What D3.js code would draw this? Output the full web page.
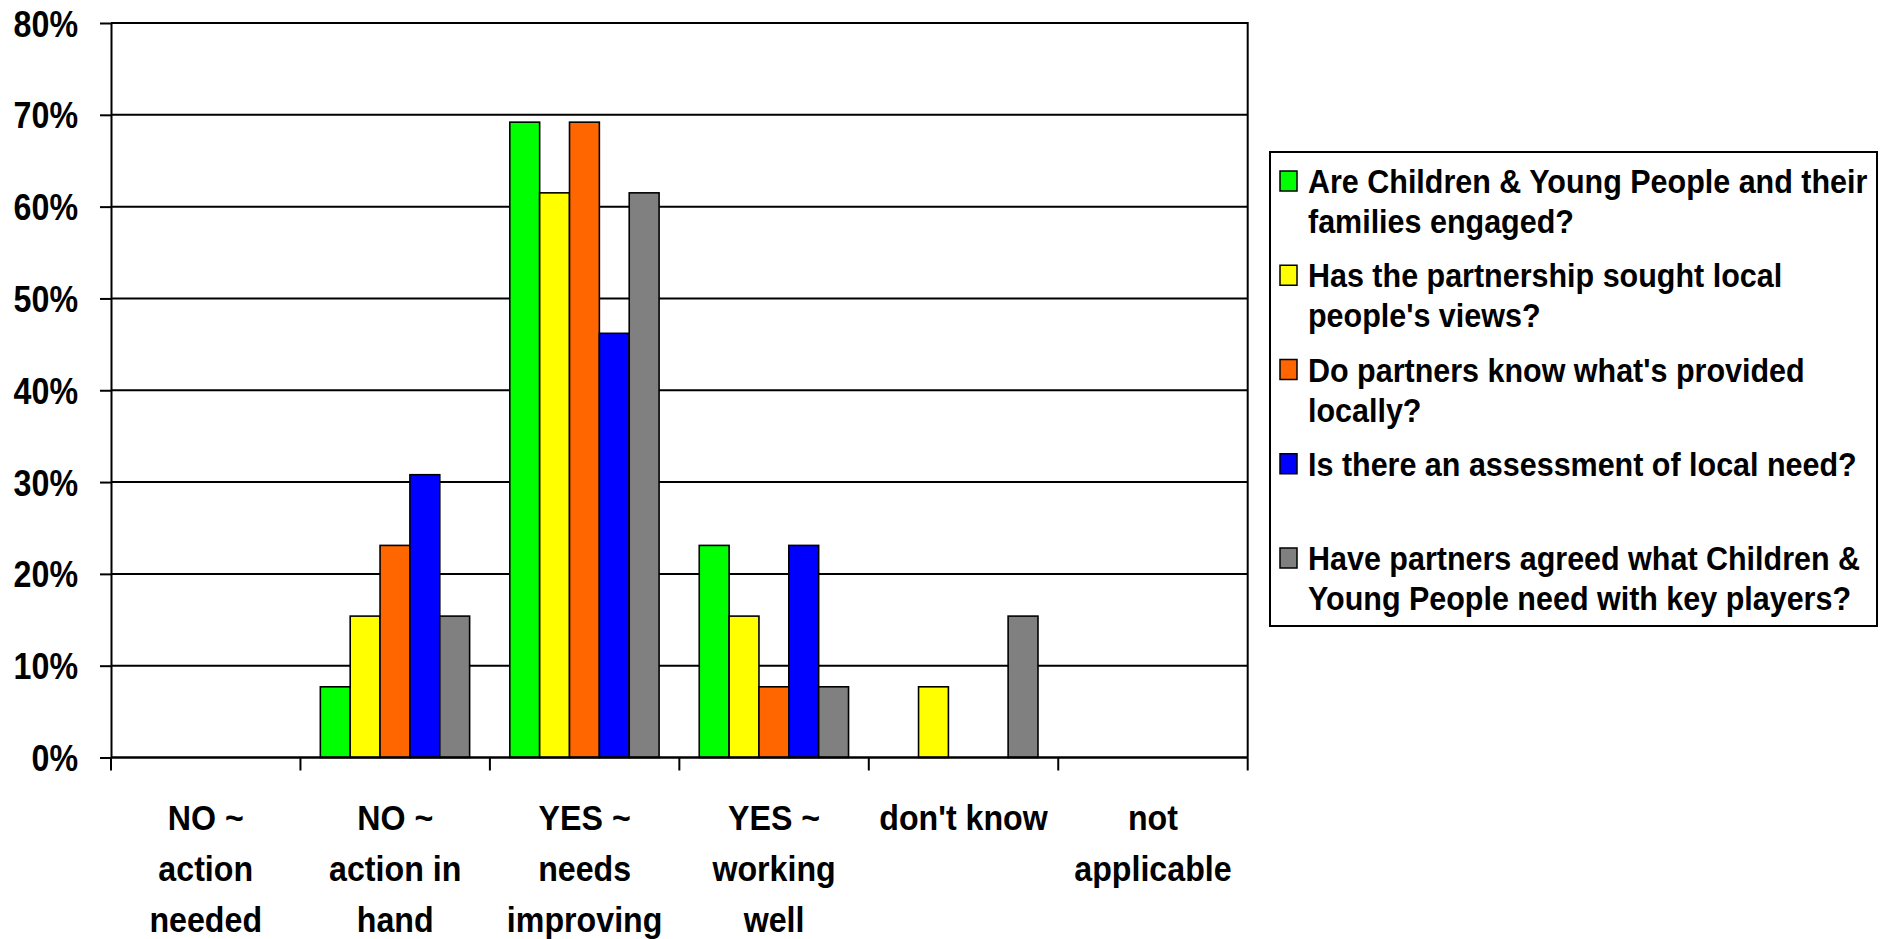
<!DOCTYPE html>
<html>
<head>
<meta charset="utf-8">
<script src="https://cdn.jsdelivr.net/npm/d3@7"></script>
<style>
  html, body { margin: 0; padding: 0; background: #fff; }
  svg { display: block; }
  text { font-family: "Liberation Sans", Arial, sans-serif; font-weight: bold; fill: #000; }
</style>
</head>
<body>
<svg id="chart" width="1881" height="939"></svg>
<script>
// ---- data ----
const categories = ["NO ~ action needed", "NO ~ action in hand", "YES ~ needs improving", "YES ~ working well", "don't know", "not applicable"];
const categoryLines = [["NO ~", "action", "needed"], ["NO ~", "action in", "hand"], ["YES ~", "needs", "improving"], ["YES ~", "working", "well"], ["don't know"], ["not", "applicable"]];
const seriesNames = [
  "Are Children & Young People and their families engaged?",
  "Has the partnership sought local people's views?",
  "Do partners know what's provided locally?",
  "Is there an assessment of local need?",
  "Have partners agreed what Children & Young People need with key players?"
];
const legendLines = [
  ["Are Children & Young People and their", "families engaged?"],
  ["Has the partnership sought local", "people's views?"],
  ["Do partners know what's provided", "locally?"],
  ["Is there an assessment of local need?"],
  ["Have partners agreed what Children &", "Young People need with key players?"]
];
const engagedValues     = [0, 7.7, 69.2, 23.1, 0, 0];
const viewsValues       = [0, 15.4, 61.5, 15.4, 7.7, 0];
const providedValues    = [0, 23.1, 69.2, 7.7, 0, 0];
const assessmentValues  = [0, 30.8, 46.2, 23.1, 0, 0];
const agreedValues      = [0, 15.4, 61.5, 7.7, 15.4, 0];
const seriesColors = ["#00ff00", "#ffff00", "#ff6600", "#0000ff", "#808080"];
const yTicks = [0, 10, 20, 30, 40, 50, 60, 70, 80];

const seriesValues = [engagedValues, viewsValues, providedValues, assessmentValues, agreedValues];

// ---- layout ----
const plot = { left: 111, right: 1247.7, top: 23, bottom: 757.5 };
const svg = d3.select("#chart");

const x0 = d3.scaleBand().domain(categories).range([plot.left, plot.right]).padding(0);
const bw = x0.bandwidth();
const x1 = d3.scaleBand().domain(seriesNames).range([bw * 0.105, bw * 0.893]).padding(0);
const y = d3.scaleLinear().domain([0, 80]).range([plot.bottom, plot.top]);

// gridlines
svg.append("g").selectAll("line").data(yTicks.filter(t => t > 0)).join("line")
  .attr("x1", plot.left).attr("x2", plot.right)
  .attr("y1", d => y(d)).attr("y2", d => y(d))
  .attr("stroke", "#000").attr("stroke-width", 2);

// bars
const flat = [];
seriesNames.forEach((s, si) => {
  categories.forEach((c, ci) => {
    const v = seriesValues[si][ci];
    if (v > 0) flat.push({ s, c, v, color: seriesColors[si] });
  });
});
svg.append("g").selectAll("rect").data(flat).join("rect")
  .attr("x", d => x0(d.c) + x1(d.s))
  .attr("y", d => y(d.v))
  .attr("width", x1.bandwidth())
  .attr("height", d => y(0) - y(d.v))
  .attr("fill", d => d.color)
  .attr("stroke", "#000").attr("stroke-width", 1.6);

// y axis with outer ticks
const yAxis = d3.axisLeft(y).tickValues(yTicks).tickSize(11).tickSizeOuter(0).tickFormat("");
const gy = svg.append("g").attr("transform", `translate(${plot.left},0)`).call(yAxis);
gy.selectAll("line").attr("stroke", "#000").attr("stroke-width", 2);
gy.select(".domain").attr("stroke", "#000").attr("stroke-width", 2);

// x axis: ticks at category boundaries
const boundaries = categories.map(c => x0(c)).concat([plot.right]);
svg.append("g").selectAll("line").data(boundaries).join("line")
  .attr("x1", d => d).attr("x2", d => d)
  .attr("y1", plot.bottom).attr("y2", plot.bottom + 13)
  .attr("stroke", "#000").attr("stroke-width", 2);
svg.append("line")
  .attr("x1", plot.left).attr("x2", plot.right)
  .attr("y1", plot.bottom).attr("y2", plot.bottom)
  .attr("stroke", "#000").attr("stroke-width", 2.4);

// plot border top/right
svg.append("path")
  .attr("d", `M${plot.left},${plot.top}H${plot.right}V${plot.bottom}`)
  .attr("fill", "none").attr("stroke", "#000").attr("stroke-width", 2);

// y labels
svg.append("g").selectAll("text").data(yTicks).join("text")
  .attr("transform", d => `translate(78,${y(d) + 13.5}) scale(0.87,1)`)
  .attr("text-anchor", "end")
  .style("font-size", "37px")
  .text(d => d + "%");

// x labels
const xl = svg.append("g").selectAll("g").data(categories).join("g");
xl.each(function (c, i) {
  const cx = x0(c) + bw / 2;
  d3.select(this).selectAll("text").data(categoryLines[i]).join("text")
    .attr("transform", (t, j) => `translate(${cx},${830 + j * 51}) scale(0.92,1)`)
    .attr("text-anchor", "middle")
    .style("font-size", "35px")
    .text(t => t);
});

// legend
const lg = svg.append("g");
lg.append("rect").attr("x", 1270).attr("y", 152).attr("width", 607).attr("height", 474)
  .attr("fill", "#fff").attr("stroke", "#000").attr("stroke-width", 2);
const itemY = d3.scalePoint().domain(seriesNames).range([193, 570]);
const items = lg.selectAll("g.item").data(seriesNames).join("g").attr("class", "item");
items.append("rect")
  .attr("x", 1280).attr("y", d => itemY(d) - 22)
  .attr("width", 17).attr("height", 20)
  .attr("fill", (d, i) => seriesColors[i])
  .attr("stroke", "#000").attr("stroke-width", 1.5);
items.each(function (d, i) {
  d3.select(this).selectAll("text").data(legendLines[i]).join("text")
    .attr("transform", (t, j) => `translate(1308,${itemY(d) + j * 40}) scale(0.91,1)`)
    .style("font-size", "33.5px")
    .text(t => t);
});
</script>
</body>
</html>
